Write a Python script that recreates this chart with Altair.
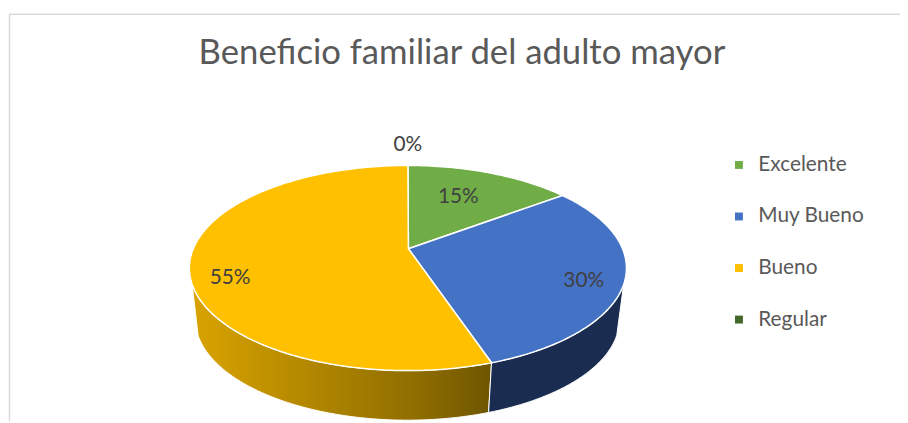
import numpy as np
import pandas as pd
import altair as alt

# ---- values
categories = ["Excelente", "Muy Bueno", "Bueno", "Regular"]
shares = [12.5, 31.25, 56.25, 0.0]          # drawn size of each slice
labels = ["15%", "30%", "55%", "0%"]        # printed labels
colors = ["#70AD47", "#4472C4", "#FFC000", "#43682B"]
title_text = "Beneficio familiar del adulto mayor"

# ---- picture-space geometry of the tilted pie
W, H = 900, 415
CX, CY, RX, RY = 411.5, 268.5, 220.5, 103.5
AX, AY = 412.0, 249.0
BCX, BCY, BRX, BRY = 411.0, 320.0, 214.0, 102.0
LABEL_FRAC = [0.6, 0.82, 0.83, 1.25]
LABEL_DY = [-6, 0, -3, 0]
WALL_LO, WALL_HI = 99.2, 260.8


def top(t):
    r = np.radians(t)
    return CX + RX * np.sin(r), CY - RY * np.cos(r)


def bottom(t):
    r = np.radians(t)
    return BCX + BRX * np.sin(r), BCY - BRY * np.cos(r)


edges = np.concatenate([[0], np.cumsum(shares)]) * 3.6

xs = alt.X("x:Q", scale=alt.Scale(domain=[8, 8 + W]), axis=None)
ys = alt.Y("y:Q", scale=alt.Scale(domain=[8 + H, 8]), axis=None)


def poly(px, py, fill, sw):
    df = pd.DataFrame({"x": px, "y": py, "o": range(len(px))})
    return alt.Chart(df).mark_line(
        fill=fill, stroke="white", strokeWidth=sw, interpolate="linear-closed", clip=True
    ).encode(x=xs, y=ys, order="o:Q")


def wall(t0, t1, fill):
    t = np.linspace(t0, t1, max(int(t1 - t0) * 2, 2))
    x1, y1 = top(t)
    x2, y2 = bottom(t[::-1])
    return poly(np.r_[x1, x2], np.r_[y1, y2], fill, 1)


layers = []
yellow_grad = alt.Gradient(
    gradient="linear", x1=1, x2=0, y1=0, y2=0,
    stops=[alt.GradientStop(color="#6E5500", offset=0),
           alt.GradientStop(color="#8F6E00", offset=0.25),
           alt.GradientStop(color="#D9A300", offset=1)],
)
layers.append(wall(edges[2], WALL_HI, yellow_grad))
layers.append(wall(WALL_LO, edges[2], "#1A2D50"))

for i, c in enumerate(categories):
    if shares[i] <= 0:
        continue
    t = np.linspace(edges[i], edges[i + 1], int(shares[i] * 3.6) + 2)
    x, y = top(t)
    layers.append(poly(np.r_[AX, x], np.r_[AY, y], colors[i], 1.5))

mids = (edges[:-1] + edges[1:]) / 2
rx_, ry_ = top(mids)
lab = pd.DataFrame({
    "x": AX + (rx_ - AX) * np.array(LABEL_FRAC),
    "y": AY + (ry_ - AY) * np.array(LABEL_FRAC) + np.array(LABEL_DY),
    "t": labels,
})
layers.append(alt.Chart(lab).mark_text(
    font="Lato", fontSize=21, color="#404040", align="center", baseline="middle"
).encode(x=xs, y=ys, text="t:N"))

# legend carrier
leg = pd.DataFrame({"x": AX, "y": AY, "cat": categories})
layers.append(alt.Chart(leg).mark_square(size=0, opacity=1).encode(
    x=xs, y=ys,
    color=alt.Color("cat:N", scale=alt.Scale(domain=categories, range=colors), sort=categories,
                    legend=alt.Legend(
                        title=None, orient="none", legendX=727, legendY=146,
                        symbolType="square", symbolSize=64, symbolStrokeWidth=0,
                        labelFont="Lato", labelFontSize=21, labelColor="#595959",
                        labelOffset=9, rowPadding=30, padding=0, labelLimit=200,
                    )),
))

# chart frame
frame_top = pd.DataFrame({"x": [9], "x2": [8 + W], "y": [12.5]})
frame_left = pd.DataFrame({"x": [9.5], "y": [12.5], "y2": [8 + H]})
rule = dict(color="#D9D9D9", strokeWidth=1.5)
layers.append(alt.Chart(frame_top).mark_rule(**rule).encode(x=xs, x2="x2:Q", y=ys))
layers.append(alt.Chart(frame_left).mark_rule(**rule).encode(x=xs, y=ys, y2="y2:Q"))

chart = alt.layer(*layers).properties(
    width=W, height=H,
    padding=0,
    autosize=alt.AutoSizeParams(type="none"),
    title=alt.TitleParams(
        title_text, font="Lato", fontSize=35, fontWeight="normal", color="#595959",
        anchor="middle", frame="group", dx=8, dy=62, offset=0,
    ),
).configure_view(stroke=None).resolve_scale(color="independent")

chart.save("out.html", embed_options={"renderer": "svg", "actions": False})
